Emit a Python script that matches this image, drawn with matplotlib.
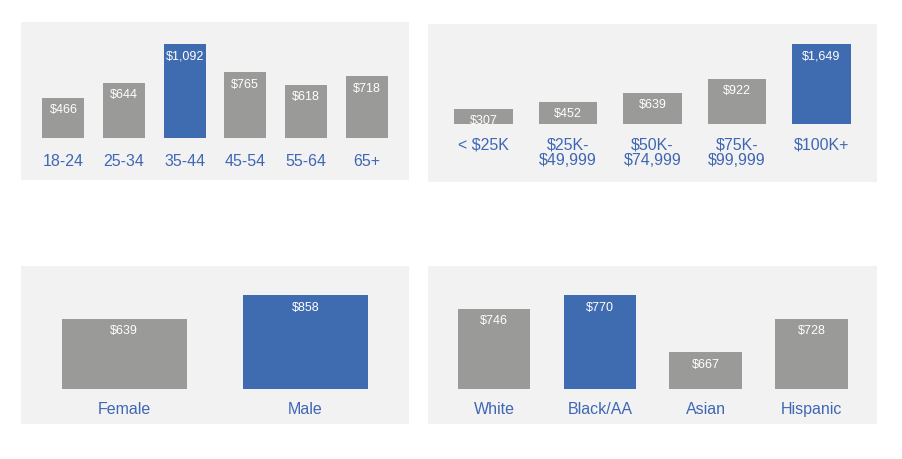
import numpy as np
import matplotlib.pyplot as plt

plt.rcParams['font.family'] = ['Liberation Sans', 'DejaVu Sans']

# Data
age_labels = ['18-24', '25-34', '35-44', '45-54', '55-64', '65+']
age_values = [466, 644, 1092, 765, 618, 718]

income_labels = ['< $25K', '$25K-\n$49,999', '$50K-\n$74,999', '$75K-\n$99,999', '$100K+']
income_values = [307, 452, 639, 922, 1649]

gender_labels = ['Female', 'Male']
gender_values = [639, 858]

race_labels = ['White', 'Black/AA', 'Asian', 'Hispanic']
race_values = [746, 770, 667, 728]

GREY = '#9a9a98'
BLUE = '#3f6bb1'
LABEL = '#3f67b4'
PANEL = '#f2f2f2'

W, H = 903, 459
fig = plt.figure(figsize=(W / 100, H / 100), dpi=100)
fig.patch.set_facecolor('white')


def panel(box, cats, vals, hi, first_c, step, bar_w, base, px_per, y0, label_y, va='center'):
    # box = (left, top, right, bottom) in pixels
    left, top, right, bottom = box
    ax = fig.add_axes([left / W, 1 - bottom / H, (right - left) / W, (bottom - top) / H])
    ax.set_facecolor(PANEL)
    for s in ax.spines.values():
        s.set_visible(False)
    ax.set_xticks([])
    ax.set_yticks([])
    ax.set_xlim((left - first_c) / step, (right - first_c) / step)
    ax.set_ylim(y0 - (bottom - base) / px_per, y0 + (base - top) / px_per)

    x = np.arange(len(cats))
    colors = [BLUE if i == hi else GREY for i in range(len(cats))]
    ax.bar(x, np.array(vals) - y0, bottom=y0, width=bar_w / step, color=colors, linewidth=0)

    for i, v in enumerate(vals):
        ax.annotate('\\$' + f'{v:,}', (i, v), xytext=(0, -12.5), textcoords='offset pixels',
                    ha='center', va='center', color='white', fontsize=9)
        ty = y0 - (label_y - base) / px_per
        ax.text(i, ty, cats[i].replace('$', '\\$'), ha='center', va=va, color=LABEL,
                fontsize=11.5, linespacing=1.08)
    return ax


panel((20.7, 22.3, 409, 179.7), age_labels, age_values, 2,
      63.5, 60.6, 42, 137.7, 1 / 11.7, 0, 161.5)
panel((428, 24.3, 877, 181.7), income_labels, income_values, 4,
      483.5, 84.5, 58.5, 123.7, 1 / 20.6, 0, 137.5, va='top')
panel((20.7, 266.3, 409, 424), gender_labels, gender_values, 1,
      124.3, 181, 124.7, 388.7, 0.1091, 0, 409.5)
panel((428, 266.3, 877, 424), race_labels, race_values, 1,
      494, 105.8, 72.3, 388.7, 0.551, 600.8, 409.5)

fig.savefig('out.png', dpi=100)
